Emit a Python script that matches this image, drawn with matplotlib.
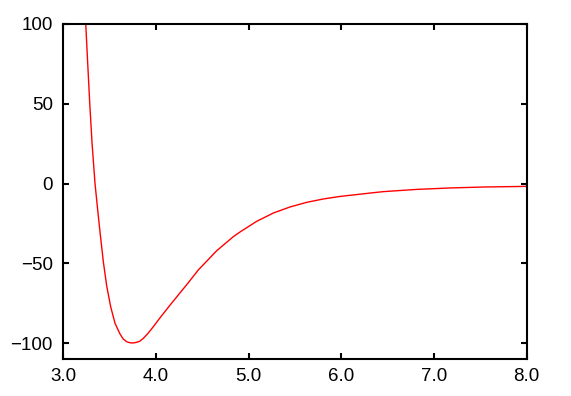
import matplotlib
matplotlib.use("Agg")
import matplotlib.pyplot as plt

# values
r_values = [3.242, 3.263, 3.285, 3.310, 3.342, 3.378, 3.403, 3.432, 3.468,
            3.511, 3.558, 3.612, 3.645, 3.684, 3.715, 3.749, 3.790, 3.827,
            3.863, 3.910, 3.971, 4.025, 4.133, 4.241, 4.349, 4.456, 4.655,
            4.834, 4.906, 5.086, 5.266, 5.446, 5.626, 5.805, 5.985, 6.309,
            6.452, 6.812, 7.172, 7.531, 8.0]
energy_values = [100.0, 75.4, 50.3, 25.3, 0.0, -20.5, -34.0, -49.0, -64.0,
                 -77.1, -87.5, -94.2, -97.2, -99.0, -99.6, -99.8, -99.4, -98.6,
                 -96.9, -94.0, -89.6, -85.4, -77.4, -69.7, -62.0, -54.1, -42.0,
                 -33.2, -30.3, -23.6, -18.4, -14.6, -11.7, -9.6, -8.0, -5.9,
                 -5.0, -3.6, -2.7, -2.1, -1.7]
x_ticks = [3.0, 4.0, 5.0, 6.0, 7.0, 8.0]
x_tick_labels = ["3.0", "4.0", "5.0", "6.0", "7.0", "8.0"]
y_ticks = [-100, -50, 0, 50, 100]

plt.rcParams['font.family'] = ['Liberation Sans', 'DejaVu Sans']

fig = plt.figure(figsize=(5.71, 3.96), dpi=100)
ax = fig.add_axes([0.1109, 0.0927, 0.9224 - 0.1109, 0.9394 - 0.0927])
ax.plot(r_values, energy_values, color='#ff0000', lw=1.0)
ax.set_xlim(3.0, 8.0)
ax.set_ylim(-110, 100)
ax.set_xticks(x_ticks)
ax.set_xticklabels(x_tick_labels)
ax.set_yticks(y_ticks)
for s in ax.spines.values():
    s.set_linewidth(1.5)
    s.set_color('black')
ax.tick_params(direction='in', top=True, right=True, length=4, width=1.5,
               labelsize=13.5, colors='black', pad=6)
ax.tick_params(axis='y', pad=7.5)
fig.savefig('out.png', dpi=100)
